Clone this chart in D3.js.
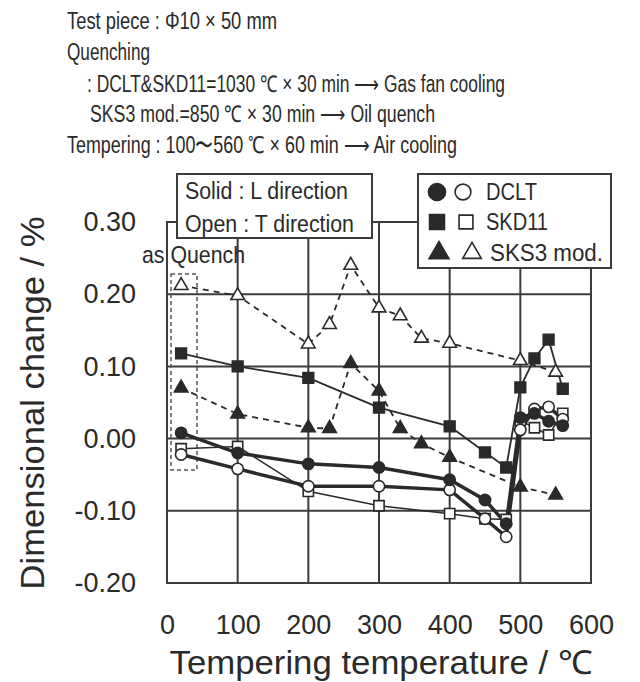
<!DOCTYPE html>
<html>
<head>
<meta charset="utf-8">
<script src="https://cdn.jsdelivr.net/npm/d3@7"></script>
<style>
  html, body { margin: 0; padding: 0; background: #fff; }
  svg { display: block; font-family: "Liberation Sans", Arial, Helvetica, sans-serif; }
</style>
</head>
<body>
<svg id="chart" width="640" height="682"></svg>
<script>
// ---------- data ----------
const tempsMain = [20, 100, 200, 300, 400, 450, 480, 500, 520, 540, 560];
const dcltL  = [0.008, -0.020, -0.035, -0.040, -0.057, -0.085, -0.118, 0.029, 0.035, 0.024, 0.018];
const dcltT  = [-0.022, -0.042, -0.066, -0.066, -0.071, -0.111, -0.136, 0.012, 0.041, 0.044, 0.027];
const skd11L = [0.118, 0.100, 0.084, 0.043, 0.017, -0.019, -0.040, 0.071, 0.111, 0.137, 0.069];
const skd11T = [-0.014, -0.011, -0.073, -0.093, -0.104, -0.111, -0.112, 0.025, 0.015, 0.005, 0.035];
const tempsSKS3 = [20, 100, 200, 230, 260, 300, 330, 360, 400, 500, 550];
const sks3L  = [0.070, 0.034, 0.015, 0.014, 0.104, 0.066, 0.014, -0.007, -0.026, -0.067, -0.078];
const sks3T  = [0.212, 0.198, 0.131, 0.158, 0.240, 0.181, 0.170, 0.139, 0.132, 0.108, 0.092];

const xTicks = [0, 100, 200, 300, 400, 500, 600];
const xTickLabels = ["0", "100", "200", "300", "400", "500", "600"];
const yTicks = [-0.2, -0.1, 0.0, 0.1, 0.2, 0.3];
const yTickLabels = ["-0.20", "-0.10", "0.00", "0.10", "0.20", "0.30"];

const headerLines = [
  "Test piece : \u03A610 \u00D7 50 mm",
  "Quenching",
  ": DCLT&SKD11=1030 \u2103 \u00D7 30 min \u27F6 Gas fan cooling",
  "SKS3 mod.=850 \u2103 \u00D7 30 min \u27F6 Oil quench",
  "Tempering : 100\u301C560 \u2103 \u00D7 60 min \u27F6 Air cooling"
];
const seriesNames = ["DCLT", "SKD11", "SKS3 mod."];
const noteLines = ["Solid : L direction", "Open : T direction"];
const xTitle = "Tempering temperature / \u2103";
const yTitle = "Dimensional change / %";
const quenchLabel = "as Quench";

// ---------- setup ----------
const svg = d3.select("#chart");
const ink = "#2a2a2a";
const gridC = "#3c3c3c";

const x = d3.scaleLinear().domain([0, 600]).range([167, 591]);
const y = d3.scaleLinear().domain([-0.2, 0.3]).range([583, 222]);

// header text
const hdr = [
  {x: 67, y: 29, w: 210}, {x: 67, y: 60, w: 83}, {x: 87, y: 92, w: 418},
  {x: 90, y: 122, w: 345}, {x: 67, y: 153, w: 390}
];
headerLines.forEach((t, i) => {
  svg.append("text").attr("x", hdr[i].x).attr("y", hdr[i].y)
    .attr("font-size", 23).attr("fill", ink)
    .attr("textLength", hdr[i].w).attr("lengthAdjust", "spacingAndGlyphs")
    .text(t);
});

// grid
const g = svg.append("g");
g.selectAll("line.v").data(xTicks).join("line")
  .attr("x1", d => x(d)).attr("x2", d => x(d))
  .attr("y1", y(0.3)).attr("y2", y(-0.2))
  .attr("stroke", gridC).attr("stroke-width", 2);
g.selectAll("line.h").data(yTicks).join("line")
  .attr("class", "h")
  .attr("x1", x(0)).attr("x2", x(600))
  .attr("y1", d => y(d)).attr("y2", d => y(d))
  .attr("stroke", gridC).attr("stroke-width", 2);
g.append("rect").attr("x", x(0)).attr("y", y(0.3))
  .attr("width", x(600) - x(0)).attr("height", y(-0.2) - y(0.3))
  .attr("fill", "none").attr("stroke", gridC).attr("stroke-width", 2);

// axes
const xAxis = d3.axisBottom(x).tickValues(xTicks).tickFormat((d, i) => xTickLabels[i])
  .tickSize(0).tickPadding(32);
const gx = svg.append("g").attr("transform", `translate(0,${y(-0.2)})`).call(xAxis);
gx.select(".domain").remove();
gx.selectAll("text").attr("font-size", 27).attr("fill", ink)
  .attr("font-family", "Liberation Sans, Arial, sans-serif");

const yAxis = d3.axisLeft(y).tickValues(yTicks).tickFormat((d, i) => yTickLabels[i])
  .tickSize(0).tickPadding(31);
const gy = svg.append("g").attr("transform", `translate(${x(0)},0)`).call(yAxis);
gy.select(".domain").remove();
gy.selectAll("text").attr("font-size", 27).attr("fill", ink)
  .attr("font-family", "Liberation Sans, Arial, sans-serif");

// axis titles
svg.append("text").attr("x", 381).attr("y", 674).attr("text-anchor", "middle")
  .attr("font-size", 33).attr("fill", ink)
  .attr("textLength", 423).attr("lengthAdjust", "spacingAndGlyphs").text(xTitle);
svg.append("text").attr("transform", "translate(44,403) rotate(-90)")
  .attr("text-anchor", "middle").attr("font-size", 34).attr("fill", ink)
  .attr("textLength", 373).attr("lengthAdjust", "spacingAndGlyphs").text(yTitle);

// dashed as-quench box and label
svg.append("rect").attr("x", 171).attr("y", 274).attr("width", 26).attr("height", 196)
  .attr("fill", "none").attr("stroke", "#555").attr("stroke-width", 1.5)
  .attr("stroke-dasharray", "4,3");
svg.append("text").attr("x", 142).attr("y", 263).attr("font-size", 24).attr("fill", ink)
  .attr("textLength", 103).attr("lengthAdjust", "spacingAndGlyphs").text(quenchLabel);

// series
const series = [
  {t: tempsSKS3, v: sks3T, sym: d3.symbolTriangle, size: 80, fill: "#fff", w: 1.8, dash: "6,5"},
  {t: tempsSKS3, v: sks3L, sym: d3.symbolTriangle, size: 80, fill: ink, w: 1.8, dash: "6,5"},
  {t: tempsMain, v: skd11L, sym: d3.symbolSquare, size: 115, fill: ink, w: 1.8, dash: null},
  {t: tempsMain, v: skd11T, sym: d3.symbolSquare, size: 105, fill: "#fff", w: 1.5, dash: null},
  {t: tempsMain, v: dcltT, sym: d3.symbolCircle, size: 100, fill: "#fff", w: 3.5, dash: null},
  {t: tempsMain, v: dcltL, sym: d3.symbolCircle, size: 100, fill: ink, w: 3.5, dash: null}
];
const line = d3.line().x(d => x(d[0])).y(d => y(d[1]));
const lineLayer = svg.append("g");
const markLayer = svg.append("g");
series.forEach(s => {
  const pts = s.t.map((t, i) => [t, s.v[i]]);
  lineLayer.append("path").attr("d", line(pts)).attr("fill", "none")
    .attr("stroke", ink).attr("stroke-width", s.w)
    .attr("stroke-dasharray", s.dash);
});
series.forEach(s => {
  const pts = s.t.map((t, i) => [t, s.v[i]]);
  markLayer.selectAll(null).data(pts).join("path")
    .attr("transform", d => `translate(${x(d[0])},${y(d[1])})`)
    .attr("d", d3.symbol().type(s.sym).size(s.size))
    .attr("fill", s.fill).attr("stroke", ink).attr("stroke-width", 1.6);
});

// note box
svg.append("rect").attr("x", 177).attr("y", 174).attr("width", 195).attr("height", 64)
  .attr("fill", "#fff").attr("stroke", gridC).attr("stroke-width", 2);
const noteW = [163, 169];
noteLines.forEach((t, i) => {
  svg.append("text").attr("x", 185).attr("y", 199 + i * 33).attr("font-size", 23)
    .attr("fill", ink).attr("textLength", noteW[i]).attr("lengthAdjust", "spacingAndGlyphs")
    .text(t);
});

// legend box
svg.append("rect").attr("x", 418).attr("y", 174).attr("width", 193).attr("height", 94)
  .attr("fill", "#fff").attr("stroke", gridC).attr("stroke-width", 2);
const legSyms = [d3.symbolCircle, d3.symbolSquare, d3.symbolTriangle];
const legSizes = [230, 225, 175];
const legFilledX = [437, 437, 439];
const legOpenX = [463, 466, 472];
const legTextX = [486, 486, 490];
const legTextW = [51, 62, 113];
const legRowY = [192, 222, 253];
seriesNames.forEach((name, i) => {
  svg.append("path").attr("transform", `translate(${legFilledX[i]},${legRowY[i]})`)
    .attr("d", d3.symbol().type(legSyms[i]).size(legSizes[i]))
    .attr("fill", ink).attr("stroke", ink).attr("stroke-width", 1.5);
  svg.append("path").attr("transform", `translate(${legOpenX[i]},${legRowY[i]})`)
    .attr("d", d3.symbol().type(legSyms[i]).size(legSizes[i] * 0.85))
    .attr("fill", "#fff").attr("stroke", ink).attr("stroke-width", 1.6);
  svg.append("text").attr("x", legTextX[i]).attr("y", legRowY[i] + 8).attr("font-size", 23)
    .attr("fill", ink).attr("textLength", legTextW[i]).attr("lengthAdjust", "spacingAndGlyphs")
    .text(name);
});
</script>
</body>
</html>
